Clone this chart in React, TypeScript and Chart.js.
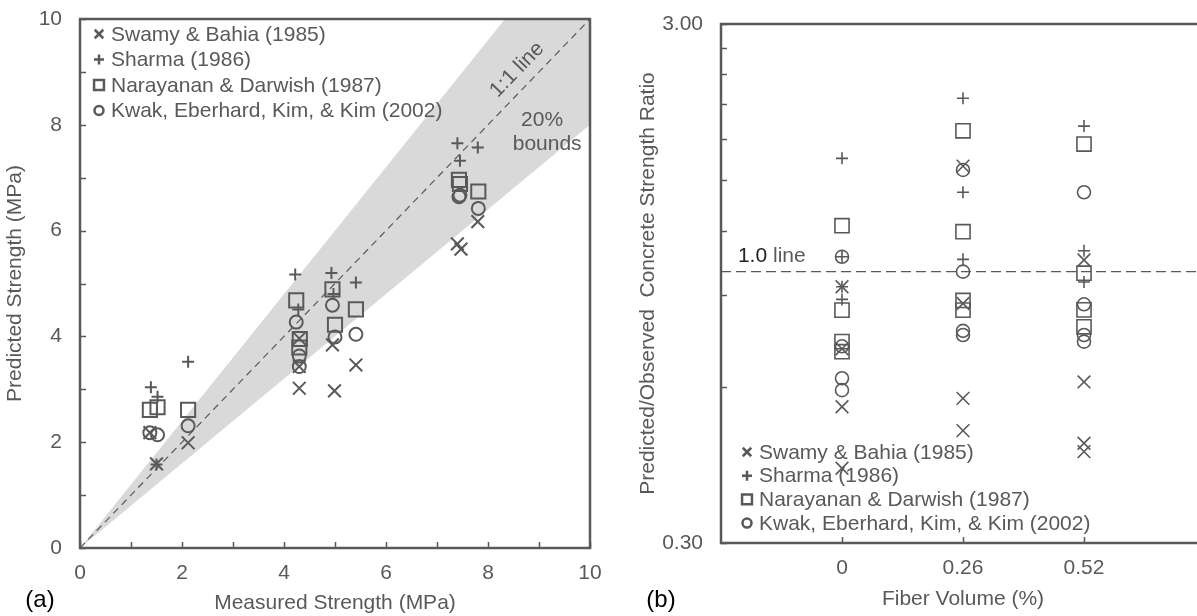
import React, { useEffect, useRef } from 'react';
import { Chart, registerables } from 'chart.js';

Chart.register(...registerables);

const INK = '#595959';
const BAND = '#d9d9d9';
const FONT = '"Liberation Sans", Arial, sans-serif';
const TEXT_SIZE = 21;

// Series shared by both panels
const seriesNames = [
  'Swamy & Bahia (1985)',
  'Sharma (1986)',
  'Narayanan & Darwish (1987)',
  'Kwak, Eberhard, Kim, & Kim (2002)',
];
const seriesMarkers = ['crossRot', 'cross', 'rect', 'circle'];
const markerRadius: Record<string, number> = { crossRot: 9, cross: 6, rect: 10, circle: 6.5 };

// (a) measured vs predicted strength, MPa
const swamyMeasured = [1.37, 1.5, 2.12, 4.3, 4.3, 4.3, 4.95, 4.99, 5.41, 7.4, 7.47, 7.8];
const swamyPredicted = [2.18, 1.59, 1.99, 3.43, 3.96, 3.02, 3.84, 2.97, 3.46, 5.75, 5.65, 6.17];
const sharmaMeasured = [1.39, 1.5, 1.52, 2.12, 4.22, 4.28, 4.93, 4.97, 5.41, 7.4, 7.45, 7.8];
const sharmaPredicted = [3.04, 1.58, 2.86, 3.52, 5.17, 4.51, 5.2, 4.8, 5.02, 7.65, 7.32, 7.57];
const narayananMeasured = [1.37, 1.52, 2.12, 4.24, 4.31, 4.3, 4.95, 5.0, 5.41, 7.43, 7.45, 7.81];
const narayananPredicted = [2.61, 2.66, 2.61, 4.68, 3.95, 3.79, 4.89, 4.22, 4.51, 6.96, 6.88, 6.74];
const kwakMeasured = [1.37, 1.52, 2.12, 4.24, 4.3, 4.3, 4.95, 5.0, 5.41, 7.43, 7.45, 7.81];
const kwakPredicted = [2.18, 2.14, 2.31, 4.27, 3.63, 3.43, 4.59, 3.99, 4.04, 6.64, 6.67, 6.42];

const strengthMin = 0;
const strengthMax = 10;
const boundFraction = 0.2; // ±20% band around the 1:1 line

// (b) predicted / observed ratio by fibre volume
const fiberVolumes = ['0', '0.26', '0.52'];
const ratioTicks = [0.3, 0.6, 0.9, 1.2, 1.5, 1.8, 2.1, 2.4, 2.7, 3.0];
const ratioLabelled = [0.3, 3.0];
const swamyFiber = [0, 0, 0, 0, 1, 1, 1, 1, 2, 2, 2, 2];
const swamyRatio = [0.935, 0.71, 0.549, 0.418, 1.597, 0.868, 0.57, 0.494, 1.053, 0.613, 0.467, 0.45];
const sharmaFiber = [0, 0, 0, 0, 1, 1, 1, 2, 2, 2];
const sharmaRatio = [1.653, 1.068, 0.935, 0.884, 2.158, 1.422, 1.056, 1.907, 1.097, 0.955];
const narayananFiber = [0, 0, 0, 0, 1, 1, 1, 1, 2, 2, 2, 2];
const narayananRatio = [1.226, 0.843, 0.733, 0.701, 1.868, 1.194, 0.88, 0.843, 1.761, 0.993, 0.844, 0.783];
const kwakFiber = [0, 0, 0, 0, 1, 1, 1, 1, 2, 2, 2, 2];
const kwakRatio = [1.068, 0.718, 0.623, 0.591, 1.57, 1.0, 0.769, 0.755, 1.422, 0.865, 0.755, 0.733];

const strengthSeries = [
  [swamyMeasured, swamyPredicted],
  [sharmaMeasured, sharmaPredicted],
  [narayananMeasured, narayananPredicted],
  [kwakMeasured, kwakPredicted],
];
const ratioSeries = [
  [swamyFiber, swamyRatio],
  [sharmaFiber, sharmaRatio],
  [narayananFiber, narayananRatio],
  [kwakFiber, kwakRatio],
];

function drawMarker(ctx: CanvasRenderingContext2D, style: string, x: number, y: number, r: number) {
  ctx.beginPath();
  if (style === 'crossRot') {
    const d = r * 0.7071;
    ctx.moveTo(x - d, y - d);
    ctx.lineTo(x + d, y + d);
    ctx.moveTo(x + d, y - d);
    ctx.lineTo(x - d, y + d);
  } else if (style === 'cross') {
    ctx.moveTo(x - r, y);
    ctx.lineTo(x + r, y);
    ctx.moveTo(x, y - r);
    ctx.lineTo(x, y + r);
  } else if (style === 'rect') {
    const d = r * 0.7071;
    ctx.rect(x - d, y - d, 2 * d, 2 * d);
  } else {
    ctx.arc(x, y, r, 0, Math.PI * 2);
  }
  ctx.stroke();
}

function drawLegend(ctx: CanvasRenderingContext2D, x: number, y: number, rowGap: number) {
  ctx.save();
  ctx.font = `${TEXT_SIZE}px ${FONT}`;
  ctx.textBaseline = 'middle';
  ctx.textAlign = 'left';
  const legendRadius: Record<string, number> = { crossRot: 6, cross: 5, rect: 7, circle: 4.5 };
  seriesNames.forEach((name, i) => {
    const cy = y + i * rowGap;
    ctx.strokeStyle = INK;
    ctx.lineWidth = 2.5;
    drawMarker(ctx, seriesMarkers[i], x, cy, legendRadius[seriesMarkers[i]]);
    ctx.fillStyle = INK;
    ctx.fillText(name, x + 12, cy + 1);
  });
  ctx.restore();
}

function drawFrame(chart: any) {
  const { ctx, chartArea: ca, scales } = chart;
  ctx.save();
  ctx.strokeStyle = INK;
  ctx.lineWidth = 1.5;
  scales.x.ticks.forEach((t: any) => {
    const px = Math.round(scales.x.getPixelForValue(t.value)) + 0.5;
    ctx.beginPath();
    ctx.moveTo(px, ca.bottom);
    ctx.lineTo(px, ca.bottom - 6);
    ctx.stroke();
  });
  scales.y.ticks.forEach((t: any) => {
    const py = Math.round(scales.y.getPixelForValue(t.value)) + 0.5;
    ctx.beginPath();
    ctx.moveTo(ca.left, py);
    ctx.lineTo(ca.left + 6, py);
    ctx.stroke();
  });
  ctx.lineWidth = 2.5;
  ctx.strokeRect(ca.left, ca.top, ca.right - ca.left, ca.bottom - ca.top);
  ctx.restore();
}

function panelTag(ctx: CanvasRenderingContext2D, text: string, x: number, y: number) {
  ctx.save();
  ctx.font = `24px ${FONT}`;
  ctx.fillStyle = '#000';
  ctx.textAlign = 'center';
  ctx.textBaseline = 'middle';
  ctx.fillText(text, x, y);
  ctx.restore();
}

const strengthPlugin = {
  id: 'strengthDecor',
  afterDraw(chart: any) {
    const { ctx, scales } = chart;
    drawFrame(chart);
    drawLegend(ctx, 99, 34, 25.5);

    // 1:1 line and band captions
    ctx.save();
    ctx.fillStyle = INK;
    ctx.font = `${TEXT_SIZE}px ${FONT}`;
    ctx.textAlign = 'center';
    ctx.textBaseline = 'middle';
    const ang = Math.atan2(
      scales.y.getPixelForValue(10) - scales.y.getPixelForValue(0),
      scales.x.getPixelForValue(10) - scales.x.getPixelForValue(0)
    );
    ctx.save();
    ctx.translate(scales.x.getPixelForValue(8.57), scales.y.getPixelForValue(9.04));
    ctx.rotate(ang);
    ctx.fillText('1:1 line', 0, 0);
    ctx.restore();
    ctx.fillText('20%', scales.x.getPixelForValue(9.06), scales.y.getPixelForValue(8.09));
    ctx.fillText('bounds', scales.x.getPixelForValue(9.16), scales.y.getPixelForValue(7.64));
    ctx.restore();

    panelTag(ctx, '(a)', 40, 600);
  },
};

const ratioPlugin = {
  id: 'ratioDecor',
  afterDraw(chart: any) {
    const { ctx, scales } = chart;
    drawFrame(chart);
    drawLegend(ctx, 127, 452, 23.7);

    // "1.0 line" caption
    ctx.save();
    ctx.font = `${TEXT_SIZE}px ${FONT}`;
    ctx.textBaseline = 'middle';
    ctx.textAlign = 'left';
    const lx = scales.x.getPixelForValue(0.14);
    const ly = scales.y.getPixelForValue(1.07);
    ctx.fillStyle = '#222';
    ctx.fillText('1.0', lx, ly);
    const w = ctx.measureText('1.0 ').width;
    ctx.fillStyle = INK;
    ctx.fillText('line', lx + w, ly);
    ctx.restore();

    panelTag(ctx, '(b)', 41, 600);
  },
};

const tickFont = { family: FONT, size: TEXT_SIZE };

// keep the plot area where the layout padding puts it
const noOverhang = (s: any) => {
  s.paddingTop = 0;
  s.paddingBottom = 0;
  s.paddingLeft = 0;
  s.paddingRight = 0;
};

function markerDataset(label: string, style: string, data: any[], lineWidth: number) {
  return {
    type: 'scatter' as const,
    label,
    data,
    pointStyle: style,
    pointRadius: markerRadius[style],
    pointHoverRadius: markerRadius[style],
    pointBorderWidth: lineWidth,
    pointHoverBorderWidth: lineWidth,
    borderColor: INK,
    backgroundColor: 'rgba(0,0,0,0)',
    showLine: false,
    order: 0,
  };
}

function StrengthChart() {
  const ref = useRef<HTMLCanvasElement>(null);
  useEffect(() => {
    const identity = [
      { x: strengthMin, y: strengthMin },
      { x: strengthMax, y: strengthMax },
    ];
    const upper = identity.map((p) => ({ x: p.x, y: p.y * (1 + boundFraction) }));
    const lower = identity.map((p) => ({ x: p.x, y: p.y * (1 - boundFraction) }));
    const chart = new Chart(ref.current!, {
      type: 'scatter',
      data: {
        datasets: [
          ...strengthSeries.map(([xs, ys], i) =>
            markerDataset(
              seriesNames[i],
              seriesMarkers[i],
              xs.map((v, k) => ({ x: v, y: ys[k] })),
              2
            )
          ),
          {
            type: 'line' as const,
            label: '1:1 line',
            data: identity,
            borderColor: INK,
            borderWidth: 1.2,
            borderDash: [7, 5],
            pointRadius: 0,
            fill: false,
            order: 1,
          },
          {
            type: 'line' as const,
            label: 'upper bound',
            data: upper,
            borderWidth: 0,
            borderColor: 'rgba(0,0,0,0)',
            backgroundColor: BAND,
            pointRadius: 0,
            fill: '+1',
            order: 2,
          },
          {
            type: 'line' as const,
            label: 'lower bound',
            data: lower,
            borderWidth: 0,
            borderColor: 'rgba(0,0,0,0)',
            backgroundColor: BAND,
            pointRadius: 0,
            fill: false,
            order: 3,
          },
        ],
      } as any,
      options: {
        responsive: false,
        animation: false,
        events: [],
        layout: { padding: { top: 19, right: 30, bottom: 0, left: 0 } },
        plugins: { legend: { display: false }, tooltip: { enabled: false } },
        scales: {
          x: {
            type: 'linear',
            min: strengthMin,
            max: strengthMax,
            grid: { display: false, drawTicks: false },
            border: { display: false },
            ticks: {
              stepSize: 1,
              autoSkip: false,
              maxRotation: 0,
              padding: 13,
              color: INK,
              font: tickFont,
              callback: (v: any) => (Number(v) % 2 === 0 ? String(v) : ''),
            },
            title: {
              display: true,
              text: 'Measured Strength (MPa)',
              color: INK,
              font: tickFont,
              padding: { top: 0, bottom: 0 },
            },
            afterFit: (s: any) => {
              s.height = 68;
              noOverhang(s);
            },
          },
          y: {
            type: 'linear',
            min: strengthMin,
            max: strengthMax,
            grid: { display: false, drawTicks: false },
            border: { display: false },
            ticks: {
              stepSize: 1,
              autoSkip: false,
              padding: 18,
              color: INK,
              font: tickFont,
              callback: (v: any) => (Number(v) % 2 === 0 ? String(v) : ''),
            },
            title: {
              display: true,
              text: 'Predicted Strength (MPa)',
              color: INK,
              font: tickFont,
              padding: { top: 2.4, bottom: 0 },
            },
            afterFit: (s: any) => {
              s.width = 80;
              noOverhang(s);
            },
          },
        },
      } as any,
      plugins: [strengthPlugin],
    });
    return () => chart.destroy();
  }, []);
  return (
    <canvas
      ref={ref}
      width={620}
      height={616}
      style={{ position: 'absolute', left: 0, top: 0, width: 620, height: 616 }}
    />
  );
}

function RatioChart() {
  const ref = useRef<HTMLCanvasElement>(null);
  useEffect(() => {
    const chart = new Chart(ref.current!, {
      type: 'scatter',
      data: {
        datasets: [
          ...ratioSeries.map(([xs, ys], i) =>
            markerDataset(
              seriesNames[i],
              seriesMarkers[i],
              xs.map((v, k) => ({ x: v + 1, y: ys[k] })),
              1.6
            )
          ),
          {
            type: 'line' as const,
            label: '1.0 line',
            data: [
              { x: 0, y: 1 },
              { x: fiberVolumes.length + 1, y: 1 },
            ],
            borderColor: INK,
            borderWidth: 1.2,
            borderDash: [10, 5],
            pointRadius: 0,
            fill: false,
            order: 1,
          },
        ],
      } as any,
      options: {
        responsive: false,
        animation: false,
        events: [],
        layout: { padding: { top: 24, right: 35, bottom: 0, left: 0 } },
        plugins: { legend: { display: false }, tooltip: { enabled: false } },
        scales: {
          x: {
            type: 'linear',
            min: 0,
            max: fiberVolumes.length + 1,
            grid: { display: false, drawTicks: false },
            border: { display: false },
            afterBuildTicks: (s: any) => {
              s.ticks = fiberVolumes.map((_, i) => ({ value: i + 1 }));
            },
            ticks: {
              autoSkip: false,
              maxRotation: 0,
              padding: 13,
              color: INK,
              font: tickFont,
              callback: (v: any) => fiberVolumes[Number(v) - 1] ?? '',
            },
            title: {
              display: true,
              text: 'Fiber Volume (%)',
              color: INK,
              font: tickFont,
              padding: { top: 0, bottom: 4 },
            },
            afterFit: (s: any) => {
              s.height = 73;
              noOverhang(s);
            },
          },
          y: {
            type: 'logarithmic',
            min: ratioTicks[0],
            max: ratioTicks[ratioTicks.length - 1],
            grid: { display: false, drawTicks: false },
            border: { display: false },
            afterBuildTicks: (s: any) => {
              s.ticks = ratioTicks.map((v) => ({ value: v }));
            },
            ticks: {
              autoSkip: false,
              padding: 18,
              color: INK,
              font: tickFont,
              callback: (v: any) =>
                ratioLabelled.some((r) => Math.abs(r - Number(v)) < 1e-9) ? Number(v).toFixed(2) : '',
            },
            title: {
              display: true,
              text: 'Predicted/Observed  Concrete Strength Ratio',
              color: INK,
              font: tickFont,
              padding: { top: 15.4, bottom: 0 },
            },
            afterFit: (s: any) => {
              s.width = 101;
              noOverhang(s);
            },
          },
        },
      } as any,
      plugins: [ratioPlugin],
    });
    return () => chart.destroy();
  }, []);
  return (
    <canvas
      ref={ref}
      width={620}
      height={616}
      style={{ position: 'absolute', left: 620, top: 0, width: 620, height: 616 }}
    />
  );
}

export default function App() {
  return (
    <div
      style={{
        position: 'fixed',
        left: 0,
        top: 0,
        width: 1197,
        height: 616,
        overflow: 'hidden',
        background: '#fff',
      }}
    >
      <StrengthChart />
      <RatioChart />
    </div>
  );
}
